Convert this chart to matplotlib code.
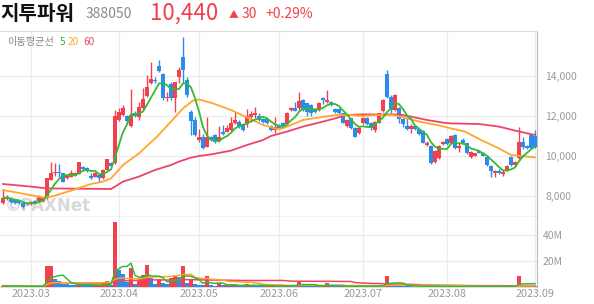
import numpy as np
import pandas as pd
import matplotlib
matplotlib.use('Agg')
import matplotlib.pyplot as plt

plt.rcParams['font.family'] = ['Noto Sans CJK KR', 'DejaVu Sans']

# colours
myRed = '#F2404C'
myBlue = '#2C8CEC'
myGreen = '#33BB33'
myOrange = '#FFA62B'
myPink = '#EE4468'

# daily candles, 2023-02-20 .. 2023-09-01 (trading days)
opens = [7630, 7870, 7830, 7800, 7770, 7630, 7580, 7600, 7770, 7770, 7770,
         7880, 8800, 9130, 9220, 9130, 8880, 8970, 9020, 9100, 9470,
         9410, 9020, 8970, 9050, 8880, 9300, 9670, 9650, 11800, 12050,
         12000, 11500, 12170, 11970, 12380, 13020, 13670, 13800, 14520, 14100,
         12880, 13600, 12880, 13970, 14930, 13800, 12220, 11800, 10800, 10970,
         10470, 10930, 11050, 10800, 11220, 11220, 11300, 11630, 11720, 11580,
         11580, 11930, 12050, 12020, 11850, 11850, 11520, 11300, 11500, 11630,
         11600, 12280, 12380, 12380, 12800, 12630, 12550, 12330, 12300, 12880,
         12720, 12720, 12350, 12330, 12130, 11500, 11880, 11420, 11130, 11630,
         11880, 11630, 11300, 11670, 12250, 14080, 12970, 12300, 12380, 11830,
         11500, 11370, 11500, 11330, 11270, 10550, 10500, 9680, 9880, 10600,
         10830, 10670, 11050, 10380, 10800, 10630, 9970, 10020, 10270, 10170,
         9970, 9500, 9170, 9270, 9100, 9300, 9970, 9530, 9880, 10720,
         10500, 11050, 11000]
highs = [8300, 8050, 7970, 7850, 7800, 7680, 7700, 7770, 7820, 8050, 7950,
         8900, 9720, 9630, 9580, 9170, 9100, 9300, 9200, 9700, 9520,
         9450, 9130, 9180, 9100, 9330, 9850, 9720, 12300, 12380, 12550,
         12050, 13330, 12250, 12720, 13380, 14050, 14720, 13970, 14800, 14150,
         13200, 13720, 13720, 14470, 15930, 13930, 12300, 11930, 11330, 11100,
         11970, 11000, 11100, 11500, 11550, 11550, 11930, 12180, 11800, 11630,
         12350, 12270, 12470, 12130, 11900, 11900, 11550, 11930, 11580, 11700,
         12220, 12450, 12700, 13220, 12830, 12650, 12600, 12380, 12700, 12970,
         13300, 12750, 12420, 12380, 12150, 11830, 11920, 11450, 11450, 11930,
         11930, 11680, 11730, 12170, 12830, 14300, 13030, 13080, 12430, 11880,
         11930, 11600, 11530, 11370, 11300, 10770, 10550, 10300, 10550, 10770,
         10880, 11050, 11100, 10720, 10880, 10670, 10250, 10150, 10320, 10200,
         10000, 9550, 9300, 9330, 9300, 9550, 10000, 9750, 11470, 10930,
         10550, 11100, 11300]
lows = [7600, 7800, 7670, 7620, 7620, 7420, 7550, 7550, 7650, 7700, 7720,
        7830, 8780, 9000, 8970, 8700, 8850, 8950, 9000, 9080, 9300,
        9200, 8830, 8950, 8720, 8850, 9280, 9500, 9600, 11770, 12000,
        11600, 11470, 11950, 11800, 12300, 12970, 13600, 13630, 14220, 12800,
        12750, 12800, 12220, 13630, 13630, 12970, 11050, 11020, 10720, 10330,
        10430, 10750, 10650, 10720, 11050, 11180, 11230, 11600, 11420, 11270,
        11470, 11680, 11920, 11750, 11650, 11600, 11250, 11170, 11380, 11420,
        11550, 12230, 12230, 12300, 12250, 12000, 12000, 12150, 12250, 12600,
        12630, 12500, 12130, 12120, 11630, 11470, 11330, 10950, 11100, 11600,
        11550, 11300, 11220, 11630, 12220, 12880, 12170, 12250, 11670, 11470,
        11300, 11170, 11300, 11050, 10630, 10500, 9600, 9670, 9850, 10550,
        10550, 10630, 10330, 10220, 10600, 10100, 9880, 9980, 10130, 9980,
        9500, 8970, 8930, 9100, 9000, 9270, 9500, 9480, 9750, 10370,
        10350, 10370, 10400]
closes = [7880, 7970, 7720, 7670, 7670, 7470, 7650, 7720, 7670, 7970, 7880,
          8880, 9130, 9220, 9130, 8720, 9050, 9130, 9130, 9680, 9330,
          9230, 8900, 9130, 8880, 9300, 9830, 9520, 12000, 12220, 12380,
          11770, 12050, 12000, 12470, 12830, 13470, 13850, 13730, 14270, 12900,
          12970, 12880, 13700, 14300, 14300, 13050, 11770, 11050, 10970, 10380,
          10930, 10800, 10720, 10930, 11100, 11420, 11630, 11800, 11500, 11300,
          12000, 12100, 12170, 11800, 11720, 11630, 11300, 11470, 11420, 11470,
          12170, 12380, 12270, 12750, 12300, 12220, 12170, 12220, 12670, 12800,
          12800, 12550, 12180, 12170, 11670, 11800, 11380, 10970, 11420, 11880,
          11600, 11380, 11700, 12130, 12800, 12970, 12300, 13050, 11830, 11600,
          11330, 11500, 11330, 11100, 10670, 10670, 9670, 10250, 10500, 10720,
          10600, 10990, 10380, 10500, 10630, 10130, 10220, 10130, 10170, 10000,
          9550, 9270, 9250, 9130, 9220, 9500, 9550, 9720, 10720, 10430,
          10380, 10410, 10440]
# volume, millions of shares
volume = [1.2, 1.0, 0.8, 0.9, 0.7, 1.1, 0.6, 0.8, 0.7, 1.2, 0.9,
          16.4, 16.4, 6.2, 4.9, 2.6, 2.4, 2.0, 1.8, 2.5, 2.0,
          1.8, 1.5, 1.5, 1.6, 2.2, 5.1, 1.8, 49.7, 13.3, 10.3,
          4.4, 14.6, 2.6, 6.9, 9.5, 17.2, 6.9, 2.6, 6.4, 3.1,
          2.6, 6.9, 8.7, 7.7, 16.4, 3.6, 5.6, 2.6, 1.8, 1.6,
          8.7, 1.8, 1.0, 3.1, 1.5, 2.0, 1.5, 1.6, 1.2, 1.1,
          2.2, 1.8, 1.6, 1.2, 1.0, 1.0, 1.1, 1.3, 0.9, 0.8,
          1.6, 1.2, 1.1, 5.1, 1.8, 1.2, 1.1, 0.8, 1.0, 0.9,
          3.6, 1.0, 0.8, 0.7, 1.1, 0.8, 0.9, 1.0, 0.8, 0.9,
          0.8, 0.7, 1.0, 1.2, 1.8, 9.0, 2.5, 2.2, 1.5, 1.0,
          0.9, 0.7, 0.6, 0.7, 1.0, 0.7, 1.2, 0.9, 0.8, 0.6,
          0.6, 0.7, 0.8, 0.6, 0.6, 0.7, 0.6, 0.5, 0.5, 0.5,
          0.7, 0.8, 0.5, 0.5, 0.5, 0.6, 0.8, 0.7, 9.0, 2.0,
          1.0, 1.2, 1.0]

# 20 and 60 day averages (day index, price)
ma20_day = [0, 3.5, 7.5, 10, 12, 13.5, 17.5, 22, 25, 27, 28, 30, 34, 38.5, 42, 45,
            47.5, 49, 52.5, 57, 61, 65, 69, 71, 75, 79, 83.5, 87, 90, 93.5, 97.5,
            100, 104, 108.5, 112, 115.5, 119.5, 124, 127, 129.5, 133]
ma20_val = [8300, 8170, 8020, 7920, 7970, 8050, 8300, 8600, 8720, 8880, 9100, 9550,
            10130, 10970, 11720, 12380, 12770, 12830, 12630, 12300, 11930, 11550,
            11330, 11470, 11800, 11930, 12050, 12050, 12000, 12050, 12050, 11930,
            11720, 11550, 11380, 11220, 10800, 10380, 10050, 10000, 9930]
ma60_day = [0, 7, 11, 27, 28, 30, 34, 38, 42, 44, 47, 49, 52, 57, 61, 65, 67, 71,
            75, 79, 83, 86, 90, 99, 102, 106, 110, 112, 119, 124, 128, 133]
ma60_val = [8600, 8470, 8380, 8350, 8470, 8720, 8970, 9300, 9550, 9720, 9920,
            10000, 10080, 10270, 10550, 10800, 11000, 11220, 11470, 11670, 11880,
            12050, 12080, 12080, 11970, 11800, 11670, 11630, 11600, 11470, 11270,
            11050]

month_day = [7, 29, 49, 69, 90, 111, 133]
month_lbl = ['2023.03', '2023.04', '2023.05', '2023.06', '2023.07', '2023.08', '2023.09']

df = pd.DataFrame({'o': opens, 'h': highs, 'l': lows, 'c': closes, 'v': volume})
df['v'] = df['v'] * 1e6
n = len(df)
x = np.arange(n)
df['ma5'] = df['c'].rolling(5, min_periods=1).mean()
up = df['c'] >= df['o']
candle_col = np.where(up, myRed, myBlue)
vol_up = df['v'].diff().fillna(0) >= 0
vol_col = np.where(vol_up, myRed, myBlue)

W, H = 594, 304
fig = plt.figure(figsize=(W / 100, H / 100), dpi=100)
fig.patch.set_facecolor('white')

def fx(px):
    return px / W

def fy(py):
    return 1 - py / H

ax = fig.add_axes([0, fy(217), fx(537), fy(30.7) - fy(217)])
axv = fig.add_axes([0, fy(287.3), fx(537), fy(217) - fy(287.3)])

grid_col = '#ECECEC'
for a in (ax, axv):
    a.set_xlim(-0.75, n - 0.5)
    a.set_xticks(month_day)
    a.tick_params(axis='both', length=0, colors='#999999', labelsize=7.5)
    a.grid(True, color=grid_col, lw=1)
    a.set_axisbelow(True)
    a.yaxis.tick_right()
    a.spines['left'].set_visible(False)
    a.spines['right'].set_color('#BBBBBB')

# price panel
ax.set_ylim(6950, 16265)
ax.set_yticks([8000, 10000, 12000, 14000])
ax.set_yticklabels(['8,000', '10,000', '12,000', '14,000'])
ax.tick_params(axis='y', pad=6)
ax.set_xticklabels([])
ax.spines['top'].set_color('#DDDDDD')
ax.spines['bottom'].set_color('#333333')

ax.text(0.008, 0.035, '©PAXNet', transform=ax.transAxes, fontsize=12, weight='bold',
        color='#BBBBBB', alpha=0.55, family='DejaVu Sans', zorder=1)

ax.vlines(x, df['l'], df['h'], color=candle_col, lw=1, zorder=3)
body = np.maximum((df['c'] - df['o']).abs(), 60)
ax.bar(x, body, bottom=np.minimum(df['o'], df['c']), width=0.8,
       color=candle_col, lw=0, zorder=3)
ax.plot(ma60_day, ma60_val, color=myPink, lw=1.3, zorder=4)
ax.plot(ma20_day, ma20_val, color=myOrange, lw=1.3, zorder=4)
ax.plot(x, df['ma5'], color=myGreen, lw=1.3, zorder=5)

# volume panel
axv.set_ylim(0, 53.8e6)
axv.set_yticks([20e6, 40e6])
axv.set_yticklabels(['20M', '40M'])
axv.tick_params(axis='y', pad=4)
axv.set_xticklabels(month_lbl)
axv.tick_params(axis='x', pad=1.5, labelsize=7.8)
axv.spines['top'].set_visible(False)
axv.spines['bottom'].set_color('#DDDDDD')
axv.bar(x, df['v'], width=0.8, color=vol_col, lw=0, zorder=3)
axv.plot(x, df['v'].rolling(60, min_periods=1).mean(), color=myPink, lw=1.1, zorder=4)
axv.plot(x, df['v'].rolling(20, min_periods=1).mean(), color=myOrange, lw=1.1, zorder=4)
axv.plot(x, df['v'].rolling(5, min_periods=1).mean(), color=myGreen, lw=1.1, zorder=5)

# header
fig.text(fx(0), fy(14), '지투파워', fontsize=14.5, weight='bold', color='#111111', va='center')
fig.text(fx(86), fy(14), '388050', fontsize=10, color='#8A8A8A', va='center')
fig.text(fx(150), fy(13), '10,440', fontsize=16, color=myRed, va='center')
fig.text(fx(229), fy(14), '▲', fontsize=7, color=myRed, va='center')
fig.text(fx(242), fy(14), '30', fontsize=10, color=myRed, va='center')
fig.text(fx(265), fy(14), '+0.29%', fontsize=10, color=myRed, va='center')

# moving average legend
fig.text(fx(7), fy(42), '이동평균선', fontsize=7.3, color='#888888', va='center')
fig.text(fx(60), fy(42), '5', fontsize=7.3, color=myGreen, va='center')
fig.text(fx(68), fy(42), '20', fontsize=7.3, color=myOrange, va='center')
fig.text(fx(83), fy(42), '60', fontsize=7.3, color=myPink, va='center')

fig.savefig('out.png', dpi=100, facecolor='white')
